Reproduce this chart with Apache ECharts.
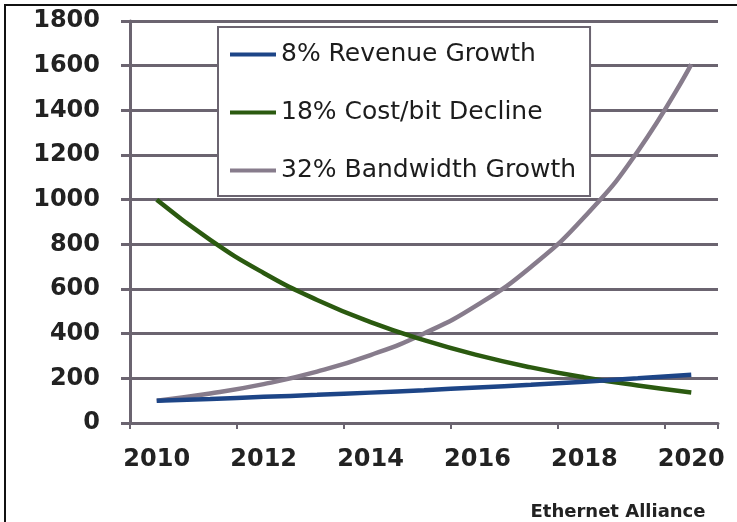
<!DOCTYPE html>
<html>
<head>
<meta charset="utf-8">
<script src="https://cdn.jsdelivr.net/npm/echarts@6/dist/echarts.min.js"></script>
<style>
  html, body { margin: 0; padding: 0; background: #ffffff; }
  #chart { width: 737px; height: 522px; }
</style>
</head>
<body>
<div id="chart"></div>
<script>
const years = ['2010','2011','2012','2013','2014','2015','2016','2017','2018','2019','2020'];
const revenueGrowth = [100, 108, 117, 126, 136, 147, 159, 171, 185, 200, 216];
const costPerBitDecline = [1000, 820, 672, 551, 452, 371, 304, 249, 204, 168, 137];
const bandwidthGrowth = [100, 132, 174, 230, 304, 401, 529, 699, 922, 1217, 1606];
const seriesNames = ['8% Revenue Growth', '18% Cost/bit Decline', '32% Bandwidth Growth'];
const yTicks = { min: 0, max: 1800, interval: 200 };
const sourceNote = 'Ethernet Alliance';

const gridColor = '#6b6470';
const chart = echarts.init(document.getElementById('chart'), null, { renderer: 'canvas' });

chart.setOption({
  animation: false,
  backgroundColor: '#ffffff',
  grid: { left: 130, right: 19, top: 21, bottom: 99, containLabel: false },
  legend: {
    orient: 'vertical',
    left: 218,
    top: 27,
    padding: [15, 14, 13, 12],
    itemGap: 33,
    itemWidth: 46,
    itemHeight: 4,
    icon: 'rect',
    backgroundColor: '#ffffff',
    borderColor: gridColor,
    borderWidth: 2,
    data: seriesNames,
    textStyle: { fontFamily: 'DejaVu Sans', fontSize: 25, color: '#1c1c1c' }
  },
  xAxis: {
    type: 'category',
    data: years,
    boundaryGap: true,
    axisLine: { lineStyle: { color: gridColor, width: 3 } },
    axisTick: { show: true, interval: 1, length: 6, lineStyle: { color: gridColor, width: 2 } },
    axisLabel: {
      interval: 1, margin: 25,
      fontFamily: 'DejaVu Sans', fontWeight: 'bold', fontSize: 24, color: '#222222'
    },
    splitLine: { show: false }
  },
  yAxis: {
    type: 'value',
    min: yTicks.min, max: yTicks.max, interval: yTicks.interval,
    axisLine: { show: true, lineStyle: { color: gridColor, width: 3 } },
    axisTick: { show: true, length: 9, lineStyle: { color: gridColor, width: 3 } },
    axisLabel: {
      margin: 30,
      formatter: function (v) { return String(v); },
      fontFamily: 'DejaVu Sans', fontWeight: 'bold', fontSize: 24, color: '#222222'
    },
    splitLine: { show: true, lineStyle: { color: gridColor, width: 3 } }
  },
  series: [
    {
      name: seriesNames[0], type: 'line', data: revenueGrowth, smooth: true,
      symbol: 'none', lineStyle: { color: '#1d4587', width: 4.5 }, itemStyle: { color: '#1d4587' }, z: 4
    },
    {
      name: seriesNames[1], type: 'line', data: costPerBitDecline, smooth: true,
      symbol: 'none', lineStyle: { color: '#2b5a10', width: 4.5 }, itemStyle: { color: '#2b5a10' }, z: 3
    },
    {
      name: seriesNames[2], type: 'line', data: bandwidthGrowth, smooth: true,
      symbol: 'none', lineStyle: { color: '#877c8c', width: 4.5 }, itemStyle: { color: '#877c8c' }, z: 2
    }
  ],
  graphic: [
    { type: 'line', shape: { x1: 4, y1: 5, x2: 737, y2: 5 }, style: { stroke: '#111111', lineWidth: 2 } },
    { type: 'line', shape: { x1: 5, y1: 5, x2: 5, y2: 522 }, style: { stroke: '#111111', lineWidth: 2 } },
    {
      type: 'text', x: 618, y: 512,
      style: {
        text: sourceNote, fontFamily: 'DejaVu Sans', fontWeight: 'bold', fontSize: 18,
        fill: '#222222', textAlign: 'center', textVerticalAlign: 'middle'
      }
    }
  ]
});
</script>
</body>
</html>
